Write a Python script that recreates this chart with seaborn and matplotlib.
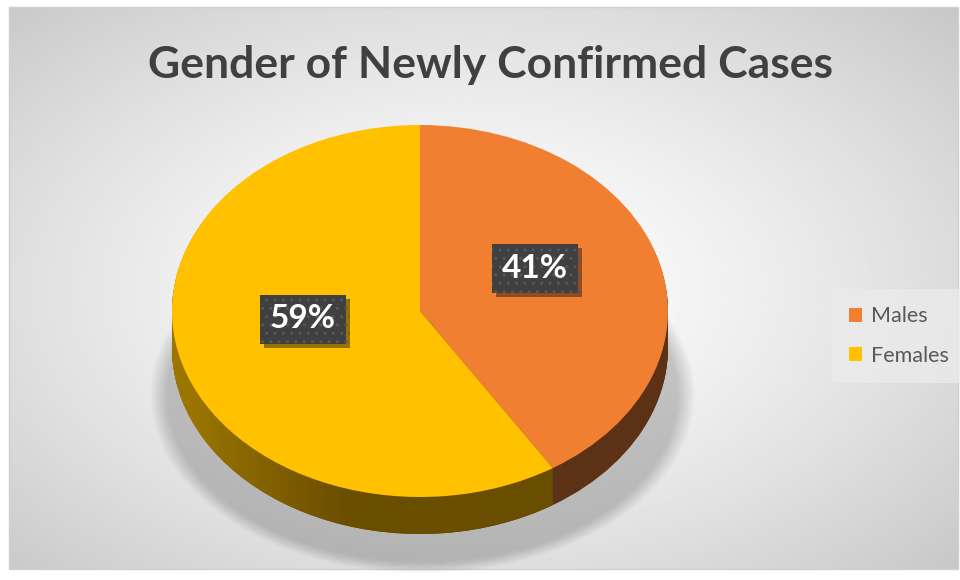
import numpy as np
import matplotlib
matplotlib.use("Agg")
import matplotlib.pyplot as plt
import matplotlib.patheffects as pe
from matplotlib.patches import Ellipse, Rectangle
from matplotlib.colors import to_rgb
import seaborn as sns

# data
categories = ["Males", "Females"]
shares = [41, 59]
title = "Gender of Newly Confirmed Cases"

top_colors = ["#F07F32", "#FFC100"]
side_colors = ["#5C3216", "#6A4E00"]

sns.set_theme(style="white")
plt.rcParams["font.family"] = ["Lato", "DejaVu Sans"]

# layout in pixels
W, H = 960, 580
cx, cy, rx, ry, depth = 420, 311, 248, 186, 37
label_px = [(535, 268), (303, 319)]

fig = plt.figure(figsize=(9.6, 5.8), dpi=100)
fig.patch.set_facecolor("white")

# background axes, pixel coords
bg = fig.add_axes([0, 0, 1, 1])
bg.set_xlim(0, W)
bg.set_ylim(H, 0)
bg.axis("off")

x0, y0, x1, y1 = 9, 7, 958, 569
XX, YY = np.meshgrid(np.linspace(x0, x1, 400), np.linspace(y0, y1, 250))
d = np.sqrt(((XX - 470) / 480) ** 2 + ((YY - 290) / 290) ** 2) / np.sqrt(2)
shade = 1 - 0.22 * np.clip(d, 0, 1) ** 1.4
bg.imshow(shade, cmap="gray", vmin=0, vmax=1, extent=(x0, x1, y1, y0),
          aspect="auto", interpolation="bilinear")
bg.add_patch(Rectangle((x0, y0), x1 - x0, y1 - y0, fill=False, ec="#CFCFCF", lw=1))

bg.text(490, 78, title, ha="center", va="baseline", fontsize=32,
        fontweight="bold", color="#404040")

# pie axes, radius units (ellipse from auto aspect)
ax = fig.add_axes([0, 0, 1, 1])
ax.patch.set_alpha(0)

# soft shadow under the pie
for i in range(12):
    s = 1 + i * 0.006
    ax.add_patch(Ellipse((0.01, -0.45), 2 * 1.03 * s, 2 * 0.9 * s,
                         color="black", alpha=0.014, lw=0, zorder=0.5))

# side of the pie: stacked layers
xs = np.linspace(-1, 1, 256)
t = np.clip((xs + 1) / 0.72, 0, 1) ** 0.7
light, dark = np.array(to_rgb("#C09400")), np.array(to_rgb("#6A4E00"))
grad = (light[None, :] * (1 - t[:, None]) + dark[None, :] * t[:, None])[None, :, :]

dd = depth / ry
z = 1
for k in range(depth, 0, -1):
    off = -dd * k / depth
    wedges, _ = ax.pie(shares, colors=side_colors, startangle=90, counterclock=False,
                       center=(0, off), radius=1, wedgeprops=dict(linewidth=0))
    for w in wedges:
        w.set_zorder(z)
    im = ax.imshow(grad, extent=(-1, 1, off - 1, off + 1), aspect="auto", zorder=z + 0.5)
    im.set_clip_path(wedges[1])
    z += 1

# top face
top, _ = ax.pie(shares, colors=top_colors, startangle=90, counterclock=False,
                radius=1, wedgeprops=dict(linewidth=0, zorder=z + 1))

for v, (px, py) in zip(shares, label_px):
    txt = ax.text((px - cx) / rx, (cy - py) / ry, f"{v}%", ha="center", va="center",
                  color="white", fontsize=24, fontweight="bold", zorder=z + 5,
                  bbox=dict(boxstyle="square,pad=0.3", fc="#404040", ec="#575757",
                            lw=0, hatch=".."))
    txt.get_bbox_patch().set_path_effects(
        [pe.withSimplePatchShadow(offset=(3, -3), shadow_rgbFace="black", alpha=0.4),
         pe.Normal()])

leg = ax.legend(top, categories, loc="center left", bbox_to_anchor=(832 / W, 1 - 336 / H),
                bbox_transform=fig.transFigure, frameon=True, fontsize=15.5,
                labelcolor="#595959", handlelength=0.6, handleheight=0.6,
                handletextpad=0.4, labelspacing=0.9, borderpad=0.8, borderaxespad=0,
                fancybox=False)
leg.set_zorder(z + 10)
leg.get_frame().set_facecolor("#EBEBEB")
leg.get_frame().set_edgecolor("none")

ax.set_xlim(-cx / rx, (W - cx) / rx)
ax.set_ylim((cy - H) / ry, cy / ry)
ax.set_aspect("auto")
ax.axis("off")

fig.savefig("out.png", dpi=100)
